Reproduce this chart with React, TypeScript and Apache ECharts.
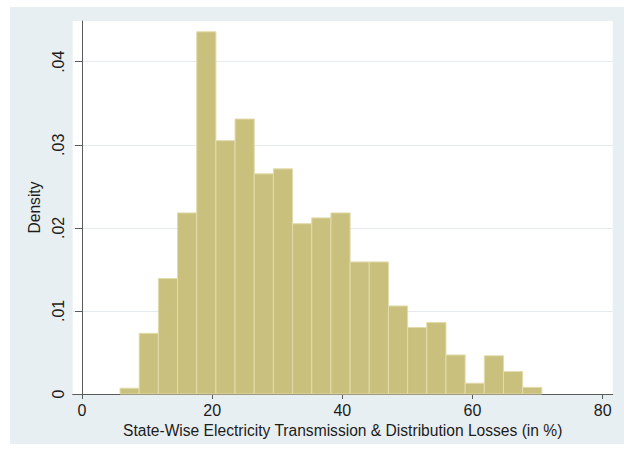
import React, { useEffect, useRef } from "react";
import * as echarts from "echarts";

// Histogram bins: left edge of the first bin, common bin width (in %), and density per bin
const BIN_START = 5.84;
const BIN_WIDTH = 2.946;
const DENSITIES = [
  0.0007, 0.0073, 0.0139, 0.0218, 0.0436, 0.0305, 0.0331, 0.0265, 0.0271, 0.0205, 0.0212,
  0.0218, 0.0159, 0.0159, 0.0106, 0.008, 0.0086, 0.0047, 0.0013, 0.0046, 0.0027, 0.0008,
];

const X_TICKS = [0, 20, 40, 60, 80];
const Y_TICKS = [0, 0.01, 0.02, 0.03, 0.04];

const X_TITLE = "State-Wise Electricity Transmission & Distribution Losses (in %)";
const Y_TITLE = "Density";

const FONT = "'Liberation Sans', Arial, Helvetica, sans-serif";
const TEXT = "#1c1c1c";
const AXIS = "#5a5a5a";
const PANEL = "#e8eff2";
const GRID_LINE = "#e4ebee";
const BAR_FILL = "#c9c07d";
const BAR_EDGE = "#e2dbab";

const fmtDensity = (v: number) => (v === 0 ? "0" : v.toFixed(2).replace(/^0/, ""));

export default function App() {
  const ref = useRef<HTMLDivElement>(null);

  useEffect(() => {
    if (!ref.current) return;
    const chart = echarts.init(ref.current, null, { renderer: "svg" });

    const bins = DENSITIES.map((d, i) => [
      BIN_START + i * BIN_WIDTH,
      BIN_START + (i + 1) * BIN_WIDTH,
      d,
    ]);

    chart.setOption({
      animation: false,
      backgroundColor: "#ffffff",
      textStyle: { fontFamily: FONT },
      graphic: [
        {
          type: "rect",
          z: -10,
          silent: true,
          shape: { x: 10, y: 7, width: 614, height: 437 },
          style: { fill: PANEL },
        },
        {
          type: "rect",
          z: -9,
          silent: true,
          shape: { x: 72.7, y: 21, width: 540, height: 373 },
          style: { fill: "#ffffff" },
        },
      ],
      grid: { left: 72.7, right: 11.3, top: 21, bottom: 56, containLabel: false },
      xAxis: {
        type: "value",
        min: -1.43,
        max: 81.54,
        name: X_TITLE,
        nameLocation: "middle",
        nameGap: 28,
        nameTextStyle: { fontSize: 15.6, color: TEXT, fontFamily: FONT },
        axisLine: { show: true, onZero: false, lineStyle: { color: AXIS, width: 1 } },
        axisTick: {
          show: true,
          inside: false,
          length: 5,
          customValues: X_TICKS,
          lineStyle: { color: AXIS, width: 1 },
        },
        axisLabel: {
          customValues: X_TICKS,
          margin: 8,
          fontSize: 16,
          color: TEXT,
          fontFamily: FONT,
        },
        splitLine: { show: false },
      },
      yAxis: {
        type: "value",
        min: 0,
        max: 0.0449,
        interval: 0.01,
        name: Y_TITLE,
        nameLocation: "middle",
        nameGap: 24,
        nameRotate: 90,
        nameTextStyle: { fontSize: 15.6, color: TEXT, fontFamily: FONT },
        axisLine: { show: true, lineStyle: { color: AXIS, width: 1 } },
        axisTick: {
          show: true,
          inside: false,
          length: 7,
          customValues: Y_TICKS,
          lineStyle: { color: AXIS, width: 1 },
        },
        axisLabel: {
          customValues: Y_TICKS,
          rotate: 90,
          margin: 6,
          fontSize: 16,
          color: TEXT,
          fontFamily: FONT,
          formatter: (v: number) => fmtDensity(v),
        },
        splitLine: { show: true, lineStyle: { color: GRID_LINE, width: 1 } },
      },
      series: [
        {
          type: "custom",
          data: bins,
          encode: { x: [0, 1], y: 2 },
          renderItem: (_params: any, api: any) => {
            const x0 = api.value(0);
            const x1 = api.value(1);
            const h = api.value(2);
            const top = api.coord([x0, h]);
            const base = api.coord([x1, 0]);
            return {
              type: "rect",
              shape: {
                x: top[0],
                y: top[1],
                width: base[0] - top[0],
                height: base[1] - top[1],
              },
              style: { fill: BAR_FILL, stroke: BAR_EDGE, lineWidth: 1 },
            };
          },
        },
      ],
    });

    return () => chart.dispose();
  }, []);

  return (
    <div
      ref={ref}
      style={{ position: "fixed", left: 0, top: 0, width: 624, height: 450 }}
    />
  );
}
